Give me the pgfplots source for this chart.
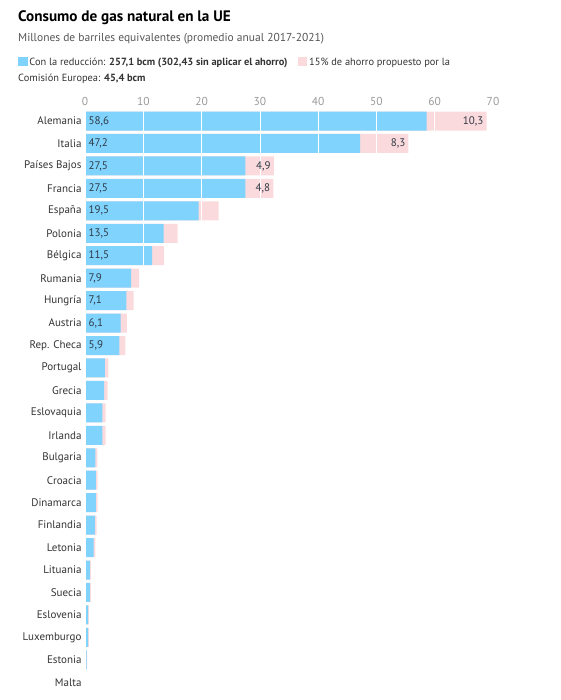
\documentclass[border=0pt]{standalone}
\usepackage{fontspec}
\setmainfont{PT Sans}
\usepackage{pgfplots}
\pgfplotsset{compat=1.18}
\definecolor{barblue}{HTML}{80D3FD}
\definecolor{barpink}{HTML}{FBDADD}
\definecolor{txt}{HTML}{333333}
\definecolor{subc}{HTML}{555555}
\definecolor{tickc}{HTML}{9A9A9A}
\definecolor{lab}{HTML}{2F3A45}
\begin{document}
\begin{tikzpicture}
\path[use as bounding box] (0pt,0pt) rectangle (560pt,-700pt);
\node[anchor=base west, inner sep=0pt, font=\fontsize{15.2}{17}\selectfont\bfseries, text=black] at (18pt,-21.5pt) {Consumo de gas natural en la UE};
\node[anchor=base west, inner sep=0pt, font=\fontsize{11.5}{14}\selectfont, text=subc] at (18pt,-42pt) {Millones de barriles equivalentes (promedio anual 2017-2021)};
\node[anchor=base west, inner sep=0pt, font=\fontsize{10.4}{13}\selectfont, text=txt] at (18pt,-65.5pt) {\textcolor{barblue}{\raisebox{-1pt}{\rule{9.5pt}{9.5pt}}}\,Con la reducción: \textbf{257,1 bcm (302,43 sin aplicar el ahorro)}\quad\textcolor{barpink}{\raisebox{-1pt}{\rule{9.5pt}{9.5pt}}}\,15\% de ahorro propuesto por la};
\node[anchor=base west, inner sep=0pt, font=\fontsize{10.4}{13}\selectfont, text=txt] at (18pt,-81.5pt) {Comisión Europea: \textbf{45,4 bcm}};
\begin{axis}[
  at={(85pt,-109.8pt)}, anchor=north west,
  scale only axis, width=408pt, height=583.7pt,
  xmin=0, xmax=70, ymin=-0.5, ymax=25.5, y dir=reverse,
  clip=false,
  axis line style={draw=none},
  major tick length=0pt,
  xtick={0,10,...,70},
  xticklabel pos=right,
  xmajorgrids,
  grid style={white, line width=0.6pt},
  axis on top,
  /pgf/number format/assume math mode=true,
  xticklabel style={font=\fontsize{11.5}{13}\selectfont, text=tickc, anchor=base, yshift=4.8pt},
  ytick={0,...,25},
  yticklabels={Alemania, Italia, Países Bajos, Francia, España, Polonia, Bélgica, Rumania, Hungría, Austria, Rep. Checa, Portugal, Grecia, Eslovaquia, Irlanda, Bulgaria, Croacia, Dinamarca, Finlandia, Letonia, Lituania, Suecia, Eslovenia, Luxemburgo, Estonia, Malta},
  yticklabel style={font=\fontsize{11}{13}\selectfont, text=txt, anchor=east},
]
% total (reduced + 15% saving)
\addplot[xbar, bar width=19pt, bar shift=0pt, fill=barpink, draw=none] coordinates {
(68.9,0) (55.5,1) (32.4,2) (32.3,3) (22.94,4) (15.88,5) (13.53,6) (9.29,7) (8.35,8) (7.18,9) (6.94,10)
(4.0,11) (3.88,12) (3.53,13) (3.53,14) (2.12,15) (2.18,16) (2.18,17) (2.0,18) (1.76,19) (1.0,20) (1.0,21)
(0.65,22) (0.65,23) (0.35,24) (0.12,25)};
% with reduction
\addplot[xbar, bar width=19pt, bar shift=0pt, fill=barblue, draw=none] coordinates {
(58.6,0) (47.2,1) (27.5,2) (27.5,3) (19.5,4) (13.5,5) (11.5,6) (7.9,7) (7.1,8) (6.1,9) (5.9,10)
(3.4,11) (3.3,12) (3.0,13) (3.0,14) (1.8,15) (1.85,16) (1.85,17) (1.7,18) (1.5,19) (0.85,20) (0.85,21)
(0.55,22) (0.55,23) (0.3,24) (0.1,25)};
% labels of blue bars
\addplot[draw=none, mark=none, nodes near coords, point meta=explicit symbolic,
  nodes near coords style={anchor=west, inner sep=3.5pt, font=\fontsize{11}{13}\selectfont, text=lab}] coordinates {
(0,0) [58{,}6] (0,1) [47{,}2] (0,2) [27{,}5] (0,3) [27{,}5] (0,4) [19{,}5] (0,5) [13{,}5] (0,6) [11{,}5]
(0,7) [7{,}9] (0,8) [7{,}1] (0,9) [6{,}1] (0,10) [5{,}9]};
% labels of pink bars
\addplot[draw=none, mark=none, nodes near coords, point meta=explicit symbolic,
  nodes near coords style={anchor=east, inner sep=3pt, font=\fontsize{11}{13}\selectfont, text=lab}] coordinates {
(68.9,0) [10{,}3] (55.5,1) [8{,}3] (32.4,2) [4{,}9] (32.3,3) [4{,}8]};
\end{axis}
\end{tikzpicture}
\end{document}
